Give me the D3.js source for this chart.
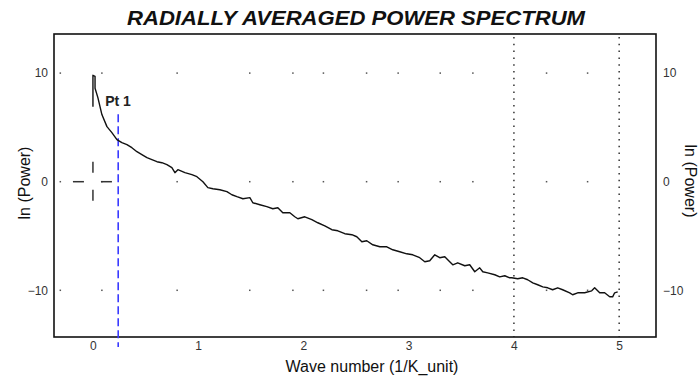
<!DOCTYPE html>
<html>
<head>
<meta charset="utf-8">
<script src="https://cdn.jsdelivr.net/npm/d3@7"></script>
<style>
  body { margin: 0; background: #fff; }
  svg { display: block; font-family: Arial, "Liberation Sans", sans-serif; }
</style>
</head>
<body>
<div id="chart"></div>
<script>
// wave number (1/K_unit) and ln(Power)
const waveNumber = [0, 0, 0.02, 0.02, 0.047, 0.085, 0.133, 0.18, 0.228, 0.275, 0.323, 0.37, 0.418, 0.465,
  0.513, 0.56, 0.608, 0.655, 0.703, 0.75, 0.779, 0.807, 0.874, 0.94, 0.988, 1.045, 1.092, 1.14, 1.206,
  1.273, 1.32, 1.368, 1.425, 1.491, 1.519, 1.586, 1.652, 1.709, 1.757, 1.804, 1.871, 1.918, 1.947, 2.013,
  2.08, 2.137, 2.203, 2.27, 2.327, 2.393, 2.46, 2.507, 2.555, 2.602, 2.659, 2.726, 2.792, 2.849, 2.915,
  2.982, 3.039, 3.105, 3.153, 3.2, 3.248, 3.295, 3.343, 3.39, 3.419, 3.466, 3.533, 3.58, 3.628, 3.675,
  3.704, 3.751, 3.818, 3.865, 3.913, 3.96, 3.979, 4.036, 4.084, 4.131, 4.179, 4.226, 4.274, 4.321, 4.368,
  4.416, 4.463, 4.53, 4.558, 4.606, 4.672, 4.739, 4.767, 4.815, 4.862, 4.91, 4.938, 4.957, 4.986];
const lnPower = [6.9, 9.8, 9.7, 8.6, 7.74, 6.18, 5.07, 4.52, 3.87, 3.59, 3.41, 3.13, 2.76, 2.49,
  2.21, 2.03, 1.84, 1.75, 1.57, 1.29, 0.83, 1.11, 0.83, 0.65, 0.46, 0, -0.55, -0.65, -0.74,
  -0.92, -1.2, -1.38, -1.57, -1.47, -1.94, -2.12, -2.3, -2.49, -2.4, -2.86, -2.86, -3.23, -3.41, -3.23,
  -3.5, -3.78, -4.06, -4.42, -4.52, -4.79, -4.88, -5.07, -5.53, -5.44, -5.81, -5.99, -5.99, -6.27, -6.45,
  -6.64, -6.73, -7.0, -7.37, -7.28, -6.73, -7.0, -6.91, -7.37, -7.65, -7.47, -7.74, -7.65, -8.29, -7.93,
  -8.29, -8.39, -8.57, -8.76, -8.66, -8.85, -8.85, -8.94, -8.85, -9.03, -9.31, -9.49, -9.68, -9.77, -9.95,
  -9.77, -9.95, -10.23, -10.41, -10.23, -10.23, -10.05, -9.77, -10.23, -10.23, -10.6, -10.6, -10.23, -10.14];

const xTicks = [0, 1, 2, 3, 4, 5];
const yTicks = [10, 0, -10];
const gridDotX = [-0.31, 0.085, 0.80, 1.49, 1.90, 2.19, 2.60, 2.90, 3.30, 3.61, 4.31, 4.70];
const dottedLinesX = [4, 5];
const pt1 = { x: 0.24, top: 6.2, label: 'Pt 1' };
const crossAt = [0, 0];

const width = 700, height = 379;
const box = { left: 54, top: 34, right: 656, bottom: 337 };

const svg = d3.select('#chart').append('svg')
  .attr('width', width)
  .attr('height', height);

const x = d3.scaleLinear().domain([-0.37, 5.35]).range([box.left, box.right]);
const y = d3.scaleLinear().domain([-14.3, 13.6]).range([box.bottom, box.top]);

// grid dots on the labelled rows
const dots = [];
yTicks.forEach(v => gridDotX.forEach(g => dots.push([g, v])));
svg.append('g').selectAll('rect')
  .data(dots)
  .enter().append('rect')
  .attr('x', d => x(d[0]) - 0.75)
  .attr('y', d => y(d[1]) - 0.75)
  .attr('width', 1.5)
  .attr('height', 1.5)
  .attr('fill', '#555');

// dotted verticals
svg.append('g').selectAll('line')
  .data(dottedLinesX)
  .enter().append('line')
  .attr('x1', d => x(d)).attr('x2', d => x(d))
  .attr('y1', box.top + 3).attr('y2', box.bottom)
  .attr('stroke', '#333')
  .attr('stroke-width', 1.5)
  .attr('stroke-dasharray', '1.5,5.3');

// frame
svg.append('rect')
  .attr('x', box.left).attr('y', box.top)
  .attr('width', box.right - box.left)
  .attr('height', box.bottom - box.top)
  .attr('fill', 'none')
  .attr('stroke', '#111')
  .attr('stroke-width', 1.6);

// axes (labels only)
const xAxis = svg.append('g')
  .attr('transform', 'translate(0,' + (box.bottom + 1) + ')')
  .call(d3.axisBottom(x).tickValues(xTicks).tickFormat(d3.format('d')).tickSize(0).tickPadding(3));
const yLeft = svg.append('g')
  .attr('transform', 'translate(' + (box.left - 6) + ',0)')
  .call(d3.axisLeft(y).tickValues(yTicks).tickSize(0).tickPadding(0));
const yRight = svg.append('g')
  .attr('transform', 'translate(' + (box.right + 7) + ',0)')
  .call(d3.axisRight(y).tickValues(yTicks).tickSize(0).tickPadding(0));
[xAxis, yLeft, yRight].forEach(a => {
  a.select('.domain').remove();
  a.selectAll('text').attr('font-size', 12).attr('fill', '#333')
    .attr('font-family', 'Arial, "Liberation Sans", sans-serif');
});

// cross marker
const cx = x(crossAt[0]), cy = y(crossAt[1]);
const cross = svg.append('g').attr('stroke', '#333').attr('stroke-width', 1.5);
[[-20, 0, -9, 0], [8, 0, 19, 0], [0, -20, 0, -9], [0, 8, 0, 19]].forEach(s => {
  cross.append('line')
    .attr('x1', cx + s[0]).attr('y1', cy + s[1])
    .attr('x2', cx + s[2]).attr('y2', cy + s[3]);
});

// Pt 1 marker line
svg.append('line')
  .attr('x1', x(pt1.x)).attr('x2', x(pt1.x))
  .attr('y1', y(pt1.top)).attr('y2', box.bottom + 10)
  .attr('stroke', '#3a3aff')
  .attr('stroke-width', 1.6)
  .attr('stroke-dasharray', '8,4');

svg.append('text')
  .attr('x', x(pt1.x) - 13)
  .attr('y', y(pt1.top) - 8)
  .attr('font-size', 14)
  .attr('font-weight', 'bold')
  .attr('fill', '#222')
  .text(pt1.label);

// spectrum
const line = d3.line()
  .x((d, i) => x(waveNumber[i]))
  .y(d => y(d));
svg.append('path')
  .datum(lnPower)
  .attr('d', line)
  .attr('fill', 'none')
  .attr('stroke', '#111')
  .attr('stroke-width', 1.4)
  .attr('stroke-linejoin', 'round');

// titles
svg.append('text')
  .attr('x', 356).attr('y', 25)
  .attr('text-anchor', 'middle')
  .attr('font-size', 20)
  .attr('font-weight', 'bold')
  .attr('font-style', 'italic')
  .attr('textLength', 458)
  .attr('lengthAdjust', 'spacingAndGlyphs')
  .attr('fill', '#111')
  .text('RADIALLY AVERAGED POWER SPECTRUM');

svg.append('text')
  .attr('x', 372).attr('y', 372)
  .attr('text-anchor', 'middle')
  .attr('font-size', 16)
  .attr('fill', '#111')
  .text('Wave number (1/K_unit)');

svg.append('text')
  .attr('transform', 'translate(30,183) rotate(-90)')
  .attr('text-anchor', 'middle')
  .attr('font-size', 16)
  .attr('fill', '#111')
  .text('ln (Power)');

svg.append('text')
  .attr('transform', 'translate(685,181) rotate(90)')
  .attr('text-anchor', 'middle')
  .attr('font-size', 16)
  .attr('fill', '#111')
  .text('ln (Power)');
</script>
</body>
</html>
